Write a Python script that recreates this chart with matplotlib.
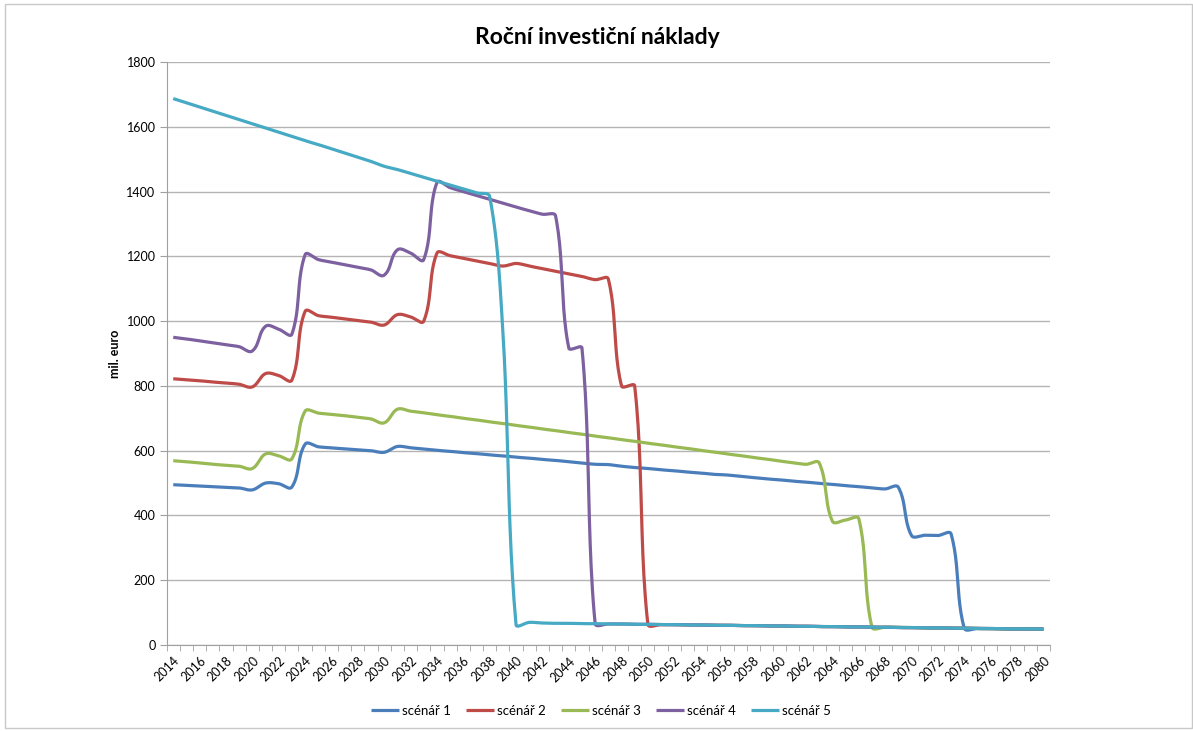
import numpy as np
import matplotlib
matplotlib.use('Agg')
import matplotlib.pyplot as plt
from matplotlib.patches import Rectangle

plt.rcParams['font.family'] = ['Lato', 'DejaVu Sans']

years = list(range(2014, 2081))

scenar1 = [495, 493, 491, 489, 487, 485, 479, 500, 498, 488,
           620, 612, 609, 606, 603, 600, 595, 613, 609, 605,
           601, 598, 594, 591, 587, 584, 580, 577, 573, 570,
           566, 562, 558, 557, 552, 548, 545, 541, 538, 534,
           531, 527, 525, 521, 517, 513, 510, 506, 503, 499,
           496, 492, 489, 485, 482, 487, 338, 339, 338, 343,
           52, 51, 51, 50, 50, 50, 49]

scenar2 = [822, 819, 816, 812, 809, 805, 797, 838, 832, 818,
           1030, 1017, 1012, 1007, 1002, 997, 988, 1020, 1013, 1000,
           1210, 1202, 1194, 1186, 1178, 1170, 1178, 1170, 1162, 1154,
           1146, 1138, 1128, 1130, 800, 800, 64, 63, 63, 62,
           62, 61, 61, 60, 60, 59, 59, 58, 58, 57,
           57, 56, 56, 55, 55, 54, 54, 53, 53, 52,
           52, 51, 51, 50, 50, 50, 49]

scenar3 = [569, 566, 562, 558, 555, 552, 545, 590, 584, 575,
           722, 716, 712, 708, 703, 698, 686, 728, 722, 717,
           711, 706, 700, 695, 689, 684, 678, 673, 667, 662,
           656, 651, 645, 640, 634, 629, 623, 618, 612, 607,
           601, 596, 590, 585, 579, 574, 568, 563, 558, 562,
           382, 386, 390, 55, 55, 54, 54, 53, 53, 52,
           52, 51, 51, 50, 50, 50, 49]

scenar4 = [950, 945, 939, 933, 927, 921, 908, 984, 975, 960,
           1205, 1190, 1182, 1174, 1166, 1158, 1142, 1220, 1210, 1190,
           1428, 1412, 1400, 1388, 1376, 1364, 1352, 1341, 1330, 1325,
           917, 917, 66, 65, 65, 64, 64, 63, 63, 62,
           62, 61, 61, 60, 60, 59, 59, 58, 58, 57,
           57, 56, 56, 55, 55, 54, 54, 53, 53, 52,
           52, 51, 51, 50, 50, 50, 49]

scenar5 = [1687, 1674, 1661, 1648, 1635, 1622, 1609, 1596, 1583, 1570,
           1557, 1545, 1532, 1519, 1506, 1493, 1478, 1468, 1456, 1444,
           1432, 1420, 1408, 1396, 1385, 970, 63, 70, 68, 67,
           67, 66, 66, 65, 65, 64, 64, 63, 63, 62,
           62, 61, 61, 60, 60, 59, 59, 58, 58, 57,
           57, 56, 56, 55, 55, 54, 54, 53, 53, 52,
           52, 51, 51, 50, 50, 50, 49]

names = ['scénář 1', 'scénář 2', 'scénář 3', 'scénář 4', 'scénář 5']
colors = ['#4A7EBB', '#BE4B48', '#98B954', '#7D60A0', '#46AAC5']

# approx. pixel scale of the axes, used so the smoothing behaves like on screen
PX_X = 13.18
PX_Y = 0.3239


def smooth(y, steps=24):
    # bezier smoothing in screen space, control arms proportional to segment length
    P = np.column_stack([np.arange(len(y)) * PX_X, np.asarray(y, float) * PX_Y])
    n = len(P)
    T = np.zeros_like(P)
    for i in range(n):
        a = P[max(i - 1, 0)]
        b = P[min(i + 1, n - 1)]
        d = b - a
        T[i] = d / np.hypot(*d)
    t = np.linspace(0, 1, steps, endpoint=False)[:, None]
    pts = []
    for i in range(n - 1):
        L = np.hypot(*(P[i + 1] - P[i])) / 3
        c1 = P[i] + T[i] * L
        c2 = P[i + 1] - T[i + 1] * L
        seg = ((1 - t) ** 3) * P[i] + 3 * ((1 - t) ** 2) * t * c1 \
            + 3 * (1 - t) * t ** 2 * c2 + t ** 3 * P[i + 1]
        pts.append(seg)
    pts.append(P[-1:])
    pts = np.vstack(pts)
    return pts[:, 0] / PX_X, pts[:, 1] / PX_Y


fig = plt.figure(figsize=(11.93, 7.31), dpi=100)
ax = fig.add_axes([0.1397, 0.1176, 0.7404, 0.7976])

for vals, name, c in zip([scenar1, scenar2, scenar3, scenar4, scenar5], names, colors):
    sx, sy = smooth(vals)
    ax.plot(sx, sy, color=c, lw=2.3, label=name, solid_capstyle='butt')

ax.set_xlim(-0.5, len(years) - 0.5)
ax.set_ylim(0, 1800)
ax.set_yticks(range(0, 1801, 200))
ax.yaxis.grid(True, color='#b4b4b4', lw=1)
ax.set_axisbelow(True)

idx = list(range(0, len(years), 2))
ax.set_xticks(idx)
ax.set_xticklabels([str(years[i]) for i in idx], rotation=45, ha='right',
                   rotation_mode='anchor', fontsize=9)
ax.set_xticks(np.arange(-0.5, len(years), 1), minor=True)
ax.tick_params(axis='x', which='major', length=0, pad=7)
ax.tick_params(axis='x', which='minor', length=4, color='#a0a0a0')
ax.tick_params(axis='y', length=5, color='#a0a0a0', labelsize=9, pad=3)

for s in ['top', 'right']:
    ax.spines[s].set_visible(False)
for s in ['left', 'bottom']:
    ax.spines[s].set_color('#a0a0a0')

ax.set_ylabel('mil. euro', fontsize=9, fontweight='bold', labelpad=4)
fig.text(0.5005, 0.949, 'Roční investiční náklady', ha='center', va='center',
         fontsize=16.5, fontweight='bold')

fig.legend(loc='center', bbox_to_anchor=(601 / 1193, 1 - 711 / 731), ncol=5,
           frameon=False, fontsize=9.5, handlelength=2.1, handletextpad=0.2,
           columnspacing=1.2)

fig.patches.append(Rectangle((5 / 1193, 3 / 731), 1187 / 1193, 724 / 731,
                             transform=fig.transFigure, fill=False,
                             edgecolor='#c8c8c8', lw=1))

fig.savefig('out.png', dpi=100)
